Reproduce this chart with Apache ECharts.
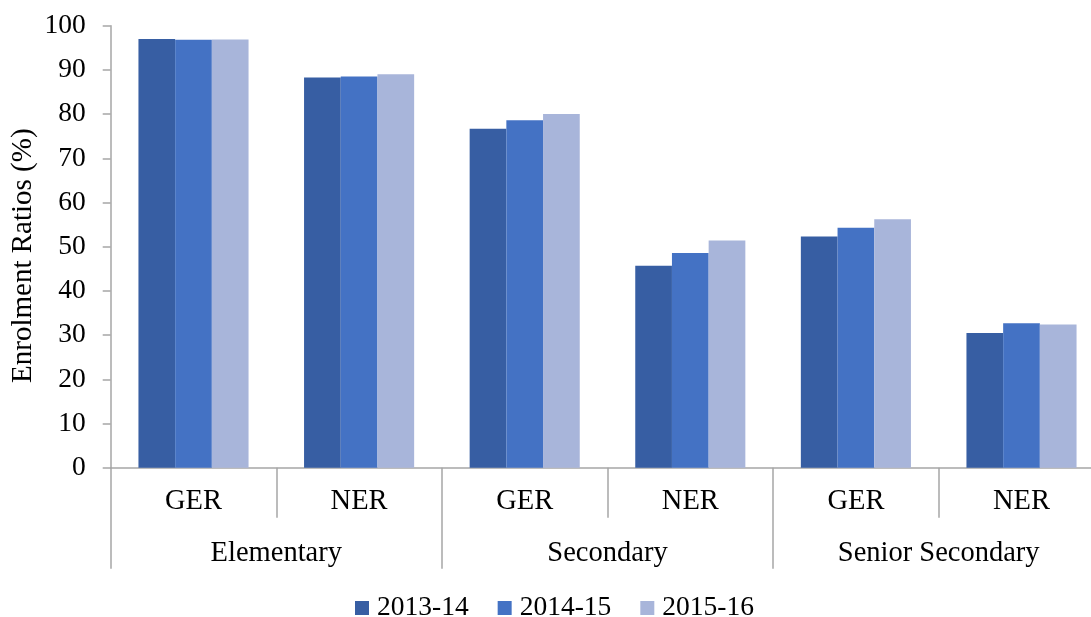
<!DOCTYPE html>
<html>
<head>
<meta charset="utf-8">
<script src="https://cdn.jsdelivr.net/npm/echarts@6/dist/echarts.min.js"></script>
<style>
  html, body { margin: 0; padding: 0; background: #fff; overflow: hidden; }
  /* the plot runs past the right edge in the original, so the canvas is a bit wider than the window */
  #chart { width: 1105px; height: 617px; }
</style>
</head>
<body>
<div id="chart"></div>
<script>
  // data
  var levels = ['GER', 'NER', 'GER', 'NER', 'GER', 'NER'];
  var groups = ['Elementary', 'Secondary', 'Senior Secondary'];
  var years = ['2013-14', '2014-15', '2015-16'];
  var y2013 = [97.0, 88.3, 76.7, 45.7, 52.3, 30.5];
  var y2014 = [96.8, 88.5, 78.6, 48.6, 54.3, 32.7];
  var y2015 = [96.9, 89.0, 80.0, 51.4, 56.2, 32.4];
  var colors = ['#375EA3', '#4472C4', '#A8B5DA'];

  var font = 'Liberation Serif';
  var axisGray = '#A6A6A6';

  var myChart = echarts.init(document.getElementById('chart'));

  function bar(name, data, color) {
    return {
      name: name,
      type: 'bar',
      data: data,
      barWidth: 36.7,
      barGap: 0,
      itemStyle: { color: color }
    };
  }

  var option = {
    animation: false,
    textStyle: { fontFamily: font, color: '#000' },
    grid: { left: 110.7, top: 25.7, width: 993.6, height: 442, outerBoundsMode: 'none', containLabel: false },
    legend: {
      data: years,
      left: 350,
      top: 589,
      itemWidth: 14,
      itemHeight: 14,
      itemGap: 29,
      icon: 'rect',
      textStyle: { fontFamily: font, fontSize: 27.5, color: '#000', padding: [0, 0, 0, 3] }
    },
    xAxis: [
      {
        type: 'category',
        position: 'bottom',
        data: levels,
        axisLine: { lineStyle: { color: axisGray, width: 1.5 } },
        axisTick: { show: true, interval: 0, length: 50, lineStyle: { color: axisGray, width: 1.5 } },
        axisLabel: { interval: 0, margin: 19, fontFamily: font, fontSize: 28.5, color: '#000' }
      },
      {
        type: 'category',
        position: 'bottom',
        data: groups,
        axisLine: { show: false },
        axisTick: { show: true, interval: 0, length: 101, lineStyle: { color: axisGray, width: 1.5 } },
        axisLabel: { interval: 0, margin: 71, fontFamily: font, fontSize: 28.5, color: '#000' }
      }
    ],
    yAxis: {
      type: 'value',
      min: 0,
      max: 100,
      interval: 10,
      name: 'Enrolment Ratios (%)',
      nameLocation: 'middle',
      nameGap: 73,
      nameMoveOverlap: false,
      nameTextStyle: { fontFamily: font, fontSize: 29, color: '#000', padding: [0, 18, 0, 0] },
      axisLine: { show: true, lineStyle: { color: axisGray, width: 1.5 } },
      axisTick: { show: true, length: 8, lineStyle: { color: axisGray, width: 1.5 } },
      axisLabel: { margin: 25, fontFamily: font, fontSize: 27.5, color: '#000' },
      splitLine: { show: false }
    },
    series: [
      bar(years[0], y2013, colors[0]),
      bar(years[1], y2014, colors[1]),
      bar(years[2], y2015, colors[2])
    ]
  };
  myChart.setOption(option);
</script>
</body>
</html>
